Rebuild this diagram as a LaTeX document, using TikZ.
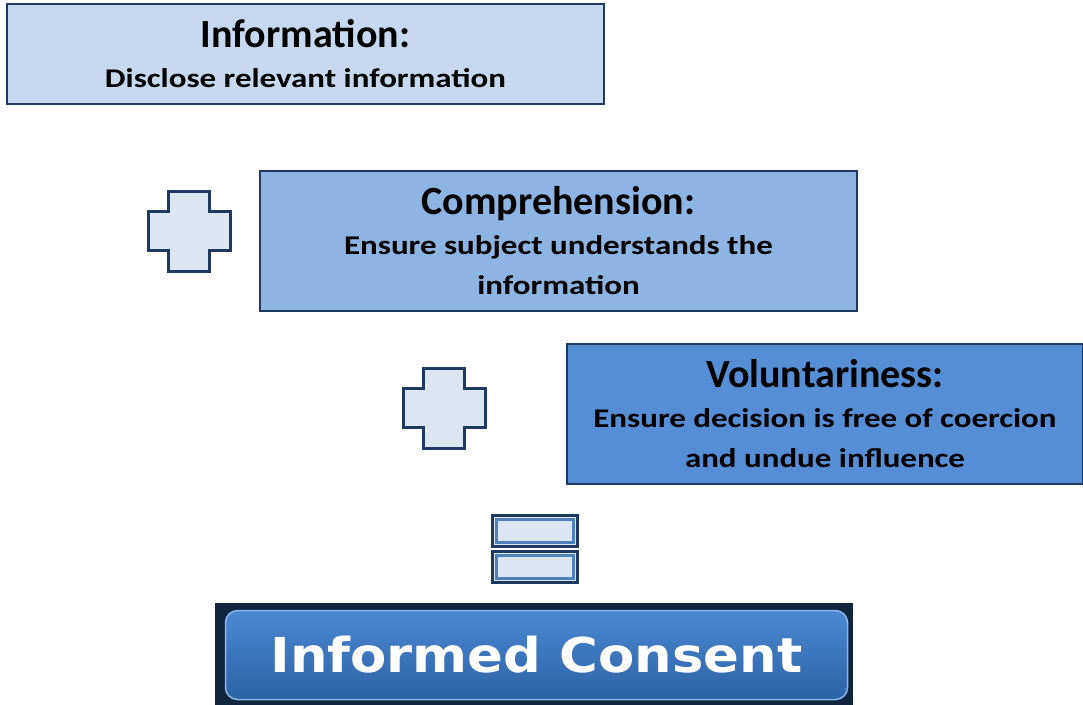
\documentclass[tikz,border=0pt]{standalone}
\usepackage{fontspec}
\setmainfont{Carlito}
\newfontfamily\subfont[FakeStretch=1.22]{Carlito}
\newfontfamily\buttonfont[FakeStretch=1.1]{DejaVu Sans}
\usepackage{tikz}
\usetikzlibrary{positioning}
\definecolor{cardline}{HTML}{1F3A60}
\definecolor{infofill}{HTML}{C6D9F1}
\definecolor{comprfill}{HTML}{8DB4E2}
\definecolor{volunfill}{HTML}{558ED5}
\definecolor{signfill}{HTML}{DCE6F2}
\definecolor{signedge}{HTML}{4F81BD}
\definecolor{buttondark}{HTML}{10263F}
\definecolor{buttontop}{HTML}{4A89D2}
\definecolor{buttonbottom}{HTML}{2D62A6}
\definecolor{buttonedge}{HTML}{8AB6EA}

\begin{document}
\begin{tikzpicture}[x=1pt, y=-1pt,
  card/.style={draw=cardline, line width=2.5pt, align=center, inner sep=0pt,
    font=\subfont\bfseries\fontsize{27}{40}\selectfont},
  plusmark/.style={draw=cardline, line width=3pt, fill=signfill, line join=miter},
  eqbar/.style={draw=cardline, line width=3pt, fill=signfill},
  eqinner/.style={draw=signedge, line width=3pt}]
\useasboundingbox (0,0) rectangle (1083,704);

% the three steps
\node[card, fill=infofill, minimum width=597, minimum height=100] (info) at (305.5,54)
  {{\rmfamily\fontsize{40}{42}\selectfont Information:}\\Disclose relevant information};
\node[card, fill=comprfill, minimum width=597, minimum height=140] (compr) at (558.5,241)
  {{\rmfamily\fontsize{40}{42}\selectfont Comprehension:}\\Ensure subject understands the\\information};
\node[card, fill=volunfill, minimum width=516, minimum height=140] (volun) at (825,414)
  {{\rmfamily\fontsize{40}{42}\selectfont Voluntariness:}\\Ensure decision is free of coercion\\and undue influence};

% plus signs between the steps
\foreach \cx/\cy in {189/231, 444/408} {
  \draw[plusmark, shift={(\cx,\cy)}]
    (-20.5,-40) -- (20.5,-40) -- (20.5,-19.5) -- (41,-19.5) -- (41,19.5) -- (20.5,19.5)
    -- (20.5,40) -- (-20.5,40) -- (-20.5,19.5) -- (-41,19.5) -- (-41,-19.5) -- (-20.5,-19.5) -- cycle;
}

% equals sign
\foreach \y in {515,551} {
  \draw[eqbar] (492,\y) rectangle (577,\y+31);
  \draw[eqinner] (496,\y+4) rectangle (573,\y+27);
}

% result button
\fill[buttondark] (215,603) rectangle (853,706);
\node[draw=buttonedge, line width=1.5pt, rounded corners=12pt, top color=buttontop, bottom color=buttonbottom,
  minimum width=622, minimum height=89, inner sep=0pt, text=white,
  font=\buttonfont\bfseries\fontsize{48}{52}\selectfont] (consent) at (536.5,655) {Informed Consent};
\end{tikzpicture}
\end{document}
